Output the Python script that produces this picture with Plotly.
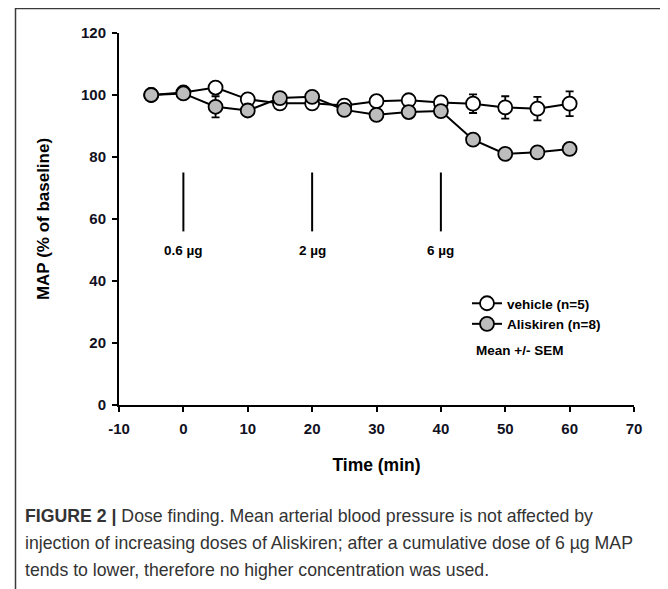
import plotly.graph_objects as go

# ---- data ----
time_min = [-5, 0, 5, 10, 15, 20, 25, 30, 35, 40, 45, 50, 55, 60]
vehicle_map = [100, 100.8, 102.4, 98.6, 97.3, 97.3, 96.6, 98.0, 98.3, 97.6, 97.2, 96.0, 95.6, 97.2]
vehicle_sem = [0, 1.0, 1.5, 1.0, 1.0, 1.0, 1.0, 1.5, 1.5, 1.5, 3.0, 3.6, 3.8, 4.0]
aliskiren_map = [100, 100.5, 96.2, 95.0, 99.0, 99.4, 95.2, 93.6, 94.5, 94.8, 85.6, 81.0, 81.5, 82.6]
aliskiren_sem = [0, 0.5, 3.4, 1.0, 1.0, 1.0, 1.5, 1.5, 1.5, 1.5, 1.5, 1.5, 1.5, 1.5]

dose_times = [0, 20, 40]
dose_labels = ["0.6 µg", "2 µg", "6 µg"]
dose_line_range = [56, 75]
dose_label_y = 50

x_ticks = [-10, 0, 10, 20, 30, 40, 50, 60, 70]
y_ticks = [0, 20, 40, 60, 80, 100, 120]

series_names = ["vehicle (n=5)", "Aliskiren (n=8)"]
note_text = "Mean +/- SEM"
caption_lines = [
    "<b>FIGURE 2 |</b> Dose finding. Mean arterial blood pressure is not affected by",
    "injection of increasing doses of Aliskiren; after a cumulative dose of 6 µg MAP",
    "tends to lower, therefore no higher concentration was used.",
]

FONT = "Liberation Sans, Arial, sans-serif"
W, H = 668, 589
OFF = 8  # page body margin offset
# plot area in reference pixels: x 119..634, y 33..405
L, R, T, B = 119 - OFF, W - (634 - OFF), 33 - OFF, H - (405 - OFF)
PW, PH = W - L - R, H - T - B


def px_x(px):
    return (px - OFF - L) / PW


def px_y(py):
    return (H - B - (py - OFF)) / PH


fig = go.Figure()

fig.add_trace(go.Scatter(
    x=time_min, y=vehicle_map, name=series_names[0], mode="lines+markers",
    line=dict(color="black", width=2),
    marker=dict(symbol="circle", size=14, color="white", line=dict(color="black", width=1.8)),
    error_y=dict(type="data", array=vehicle_sem, visible=True, color="black", thickness=1.8, width=4),
    legendrank=1,
))
fig.add_trace(go.Scatter(
    x=time_min, y=aliskiren_map, name=series_names[1], mode="lines+markers",
    line=dict(color="black", width=2),
    marker=dict(symbol="circle", size=14, color="#bdbdbd", line=dict(color="black", width=1.8)),
    error_y=dict(type="data", array=aliskiren_sem, visible=True, color="black", thickness=1.8, width=4),
    legendrank=2,
))

for t, lab in zip(dose_times, dose_labels):
    fig.add_shape(type="line", xref="x", yref="y", x0=t, x1=t,
                  y0=dose_line_range[0], y1=dose_line_range[1],
                  line=dict(color="black", width=2))
    fig.add_annotation(x=t, y=dose_label_y, xref="x", yref="y", text=lab, showarrow=False,
                       font=dict(family=FONT, size=13.5, color="black", weight="bold"),
                       xanchor="center", yanchor="middle")

fig.add_annotation(x=px_x(474), y=px_y(350), xref="paper", yref="paper", text=note_text,
                   showarrow=False, xanchor="left", yanchor="middle",
                   font=dict(family=FONT, size=13.5, color="black", weight="bold"))

# frame around figure
fig.add_shape(type="rect", xref="paper", yref="paper",
              x0=px_x(15.5), x1=px_x(720), y0=px_y(640), y1=px_y(8.5),
              line=dict(color="#3a3a3a", width=1.5), layer="below")

caption_y = [516, 543, 570]
for line, cy in zip(caption_lines, caption_y):
    fig.add_annotation(x=px_x(23), y=px_y(cy), xref="paper", yref="paper", text=line,
                       showarrow=False, xanchor="left", yanchor="middle",
                       font=dict(family=FONT, size=17.7, color="#333333"))

fig.update_layout(
    width=W, height=H,
    margin=dict(l=L, r=R, t=T, b=B, autoexpand=False),
    paper_bgcolor="white", plot_bgcolor="white",
    showlegend=True,
    legend=dict(x=px_x(467), y=px_y(288), xanchor="left", yanchor="top",
                bgcolor="rgba(0,0,0,0)", font=dict(family=FONT, size=13.5, color="black", weight="bold"),
                itemwidth=30, tracegroupgap=0),
    font=dict(family=FONT, color="black"),
)

fig.update_xaxes(
    range=[-10, 70], tickvals=x_ticks, ticktext=[str(v) for v in x_ticks],
    showline=True, linecolor="black", linewidth=2, ticks="outside", ticklen=5, tickwidth=2,
    tickcolor="black", showgrid=False, zeroline=False, ticklabelstandoff=4,
    tickfont=dict(family=FONT, size=15, color="#111122", weight="bold"),
    title=dict(text="Time (min)", font=dict(family=FONT, size=17.5, color="black", weight="bold"), standoff=23),
)
fig.update_yaxes(
    range=[0, 120], tickvals=y_ticks, ticktext=[str(v) for v in y_ticks],
    showline=True, linecolor="black", linewidth=2, ticks="outside", ticklen=5, tickwidth=2,
    tickcolor="black", showgrid=False, zeroline=False, ticklabelstandoff=3,
    tickfont=dict(family=FONT, size=15, color="#111122", weight="bold"),
    title=dict(text="MAP (% of baseline)", font=dict(family=FONT, size=17, color="black", weight="bold"), standoff=27),
)

fig.write_html("out.html")
